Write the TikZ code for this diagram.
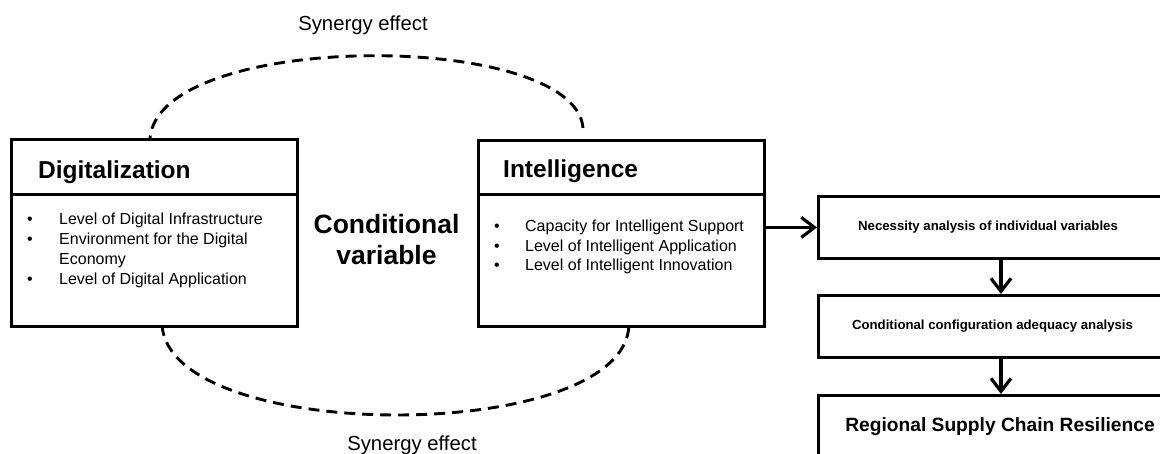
\documentclass[tikz,border=0pt]{standalone}
\usepackage{fontspec}
\setmainfont{Liberation Sans}
\usetikzlibrary{arrows.meta}
\tikzset{
  box/.style={draw, line width=2.9pt, inner sep=0pt, rectangle},
  syn/.style={line width=2.9pt, dash pattern=on 11pt off 7pt},
  arr/.style={line width=3.2pt, -{Straight Barb[length=13pt,width=20pt,line width=3.2pt]}},
  lbl/.style={inner sep=0pt}
}
\begin{document}
\begin{tikzpicture}[x=1pt,y=-1pt]
\useasboundingbox (0,0) rectangle (1160,454);
\fill[white] (0,0) rectangle (1160,454);
% Digitalization
\node[box, minimum width=286pt, minimum height=55pt, anchor=north west] (digt) at (10,138) {};
\node[box, minimum width=286pt, minimum height=132pt, anchor=north west] (digb) at (10,193) {};
\node[lbl, anchor=base west, font=\fontsize{24.5}{28}\selectfont\bfseries] (digtitle) at (38,179) {Digitalization};
\node[lbl, anchor=north west, font=\fontsize{16}{20}\selectfont] (diglist) at (27,210)
 {\begin{tabular}{@{}p{32pt}@{}l@{}}
  • & Level of Digital Infrastructure\\
  • & Environment for the Digital\\
    & Economy\\
  • & Level of Digital Application
 \end{tabular}};
% Intelligence
\node[box, minimum width=286pt, minimum height=54pt, anchor=north west] (intt) at (477,139) {};
\node[box, minimum width=286pt, minimum height=132pt, anchor=north west] (intb) at (477,193) {};
\node[lbl, anchor=base west, font=\fontsize{24.5}{28}\selectfont\bfseries] (inttitle) at (503,178) {Intelligence};
\node[lbl, anchor=north west, font=\fontsize{16}{19.5}\selectfont] (intlist) at (494,218)
 {\begin{tabular}{@{}p{31pt}@{}l@{}}
  • & Capacity for Intelligent Support\\
  • & Level of Intelligent Application\\
  • & Level of Intelligent Innovation
 \end{tabular}};
% Conditional variable
\node[lbl, align=center, font=\fontsize{26.5}{31}\selectfont\bfseries] (cond) at (386.5,240) {Conditional\\variable};
% right column
\node[box, minimum width=360pt, minimum height=62pt, anchor=north west] (nec) at (817,195) {};
\node[lbl, font=\fontsize{13.2}{16}\selectfont\bfseries] (nectext) at (988,227) {Necessity analysis of individual variables};
\node[box, minimum width=360pt, minimum height=62pt, anchor=north west] (conf) at (817,294) {};
\node[lbl, font=\fontsize{13.2}{16}\selectfont\bfseries] (conftext) at (992.5,326) {Conditional configuration adequacy analysis};
\node[box, minimum width=360pt, minimum height=80pt, anchor=north west] (res) at (817,394) {};
\node[lbl, font=\fontsize{19.2}{23}\selectfont\bfseries] (restext) at (1000,427) {Regional Supply Chain Resilience};
% arrows
\coordinate (a1) at (intb.east |- nec.west);
\draw[arr] (a1) -- (nec.west);
\coordinate (b1) at (1001,257);
\coordinate (b2) at (1001,294);
\coordinate (c1) at (1001,356);
\coordinate (c2) at (1001,394);
\draw[arr] (b1) -- (b2);
\draw[arr] (c1) -- (c2);
% synergy arcs
\coordinate (s1) at (150,138);
\coordinate (s2) at (583,128);
\draw[syn] (s2) .. controls (575,30) and (160,30) .. (s1);
\coordinate (t1) at (162,325);
\coordinate (t2) at (629,325);
\draw[syn] (t1) .. controls (170,445) and (625,445) .. (t2);
\node[lbl, font=\fontsize{20.3}{24}\selectfont] (syntop) at (363,25) {Synergy effect};
\node[lbl, font=\fontsize{20.3}{24}\selectfont] (synbot) at (412,445) {Synergy effect};
\end{tikzpicture}
\end{document}
